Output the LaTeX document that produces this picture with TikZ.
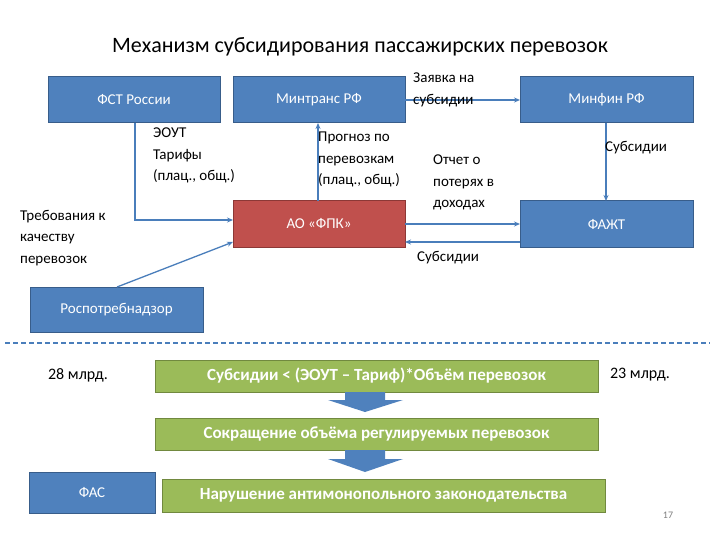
\documentclass[tikz,border=0pt]{standalone}
\usepackage{fontspec}
\setmainfont{Carlito}
\usetikzlibrary{arrows.meta,shapes.arrows}
\definecolor{bb}{HTML}{4F81BD}\definecolor{bbd}{HTML}{385D8A}
\definecolor{rr}{HTML}{C0504D}\definecolor{rrd}{HTML}{8C3836}
\definecolor{gg}{HTML}{9BBB59}\definecolor{ggd}{HTML}{71893F}
\definecolor{ln}{HTML}{4A7EBB}
\tikzset{
 bx/.style={draw=#1,line width=1pt,text=white,font=\fontsize{15}{18}\selectfont},
 conn/.style={draw=ln,line width=1.3pt,-{Stealth[length=6pt,width=5pt]}},
 lab/.style={align=left,anchor=north west,inner sep=0pt,font=\fontsize{15}{21.5}\selectfont},
 grn/.style={draw=ggd,line width=1pt,fill=gg,text=white,font=\bfseries\fontsize{17}{20}\selectfont},
 big/.style={fill=bb,draw=none}
}
\begin{document}
\begin{tikzpicture}[x=1pt,y=-1pt]
\useasboundingbox[fill=white] (0,0) rectangle (720,540);
\node[font=\fontsize{22}{26}\selectfont] (title) at (360,47) {Механизм субсидирования пассажирских перевозок};
\path[bx=bbd,fill=bb] (48,77) rectangle (220,123) node[midway] (fst) {ФСТ России};
\path[bx=bbd,fill=bb] (233,77) rectangle (405,123) node[midway] (mt) {Минтранс РФ};
\path[bx=bbd,fill=bb] (520,77) rectangle (693,123) node[midway] (mf) {Минфин РФ};
\path[bx=rrd,fill=rr] (233,201) rectangle (405,247) node[midway] (fpk) {АО «ФПК»};
\path[bx=bbd,fill=bb] (520,201) rectangle (693,247) node[midway] (fazt) {ФАЖТ};
\path[bx=bbd,fill=bb] (30,287) rectangle (203,332) node[midway] (rpn) {Роспотребнадзор};
\coordinate (fsttop) at (135,123);
\coordinate (fstc) at (135,220);
\draw[conn] (fsttop) -- (fstc) -- (233,220);
\draw[conn] (117,287) -- (233,242);
\draw[conn] (318,201) -- (318,123);
\draw[conn] (405,100) -- (520,100);
\draw[conn] (606,123) -- (606,201);
\draw[conn] (405,224) -- (520,224);
\draw[conn] (520,242) -- (405,242);
\node[lab] (l1) at (153,128) {ЭОУТ\\Тарифы\\(плац., общ.)};
\node[lab] (l2) at (20,210) {Требования к\\качеству\\перевозок};
\node[lab] (l3) at (318,132) {Прогноз по\\перевозкам\\(плац., общ.)};
\node[lab] (l4) at (433,155) {Отчет о\\потерях в\\доходах};
\node[lab] (l5) at (413,73) {Заявка на\\субсидии};
\node[lab] (l6) at (605,141) {Субсидии};
\node[lab] (l7) at (417,251) {Субсидии};
\draw[ln,line width=1.5pt,dash pattern=on 5pt off 3pt] (5,343) coordinate (d1) -- (710,343) coordinate (d2);
\path[grn] (155,360) rectangle (598,392) node[midway] (g1) {Субсидии < (ЭОУТ – Тариф)*Объём перевозок};
\path[grn] (155,418) rectangle (598,450) node[midway] (g2) {Сокращение объёма регулируемых перевозок};
\path[grn] (162,479) rectangle (605,512) node[midway] (g3) {Нарушение антимонопольного законодательства};
\path[bx=bbd,fill=bb] (29,472) rectangle (155,513) node[midway] (fas) {ФАС};
\fill[bb] (345,392) -- (385,392) -- (385,400) -- (403,400) -- (365,412) -- (328,400) -- (345,400) -- cycle;
\fill[bb] (345,450) -- (385,450) -- (385,459) -- (403,459) -- (365,472) -- (328,459) -- (345,459) -- cycle;
\node[font=\fontsize{16}{19}\selectfont] (m28) at (78,375) {28 млрд.};
\node[font=\fontsize{16}{19}\selectfont] (m23) at (640,375) {23 млрд.};
\node[font=\fontsize{10}{12}\selectfont,text=gray] (pg) at (668,515) {17};
\end{tikzpicture}
\end{document}
